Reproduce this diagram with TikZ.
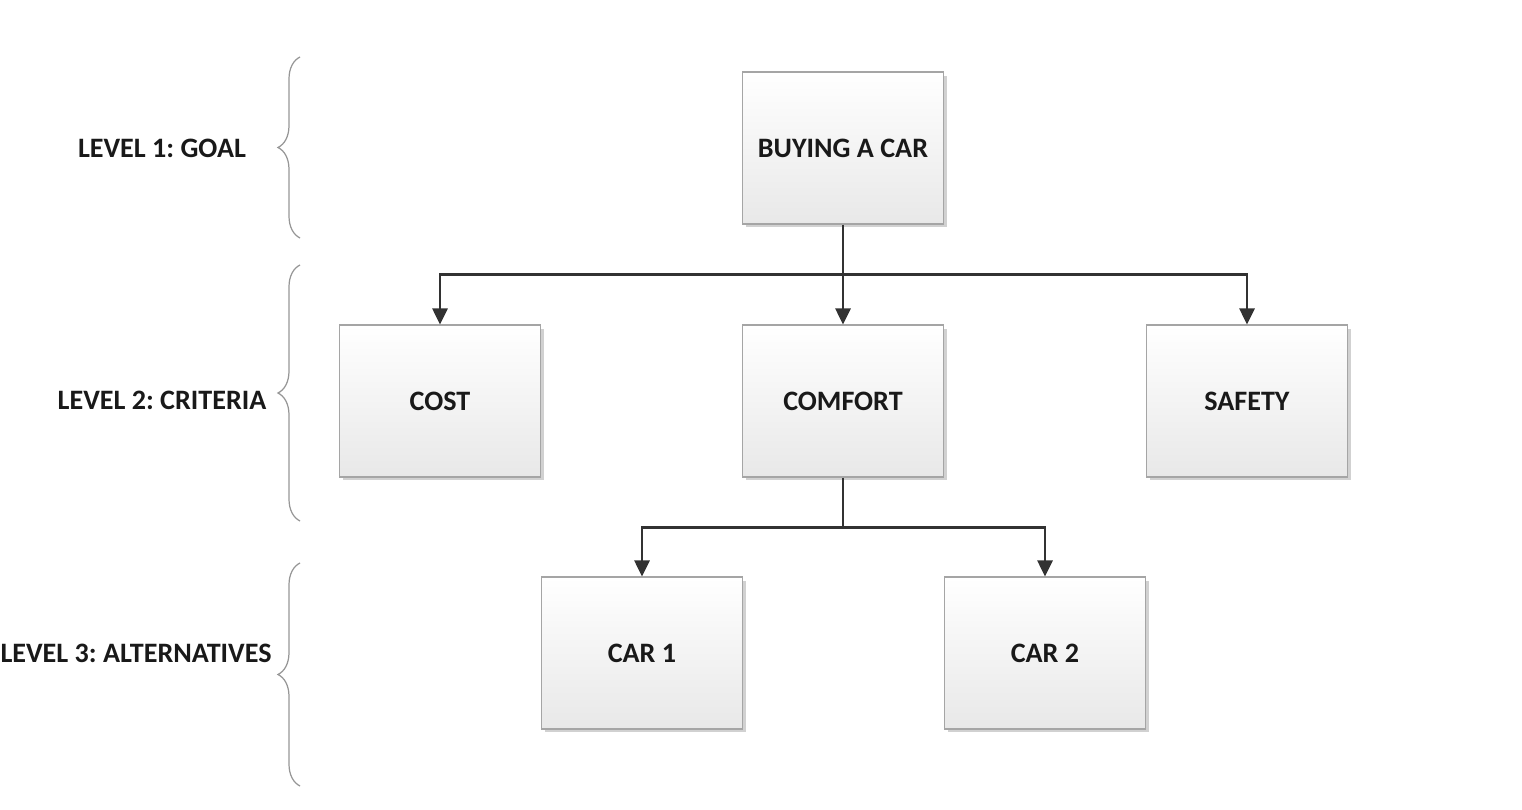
\documentclass[tikz,border=0pt]{standalone}
\usepackage{fontspec}
\setmainfont{Carlito}
\frenchspacing
\usetikzlibrary{arrows.meta,positioning,shadows,decorations.pathreplacing}
\definecolor{boxedge}{RGB}{165,165,165}
\definecolor{linkcolor}{RGB}{50,50,50}
\definecolor{bracecolor}{RGB}{150,150,150}
\definecolor{textcolor}{RGB}{25,25,25}

\tikzset{
  hbox/.style={draw=boxedge, line width=0.6pt, top color=white, bottom color=black!9,
    minimum width=4.02cm, minimum height=3.04cm, inner sep=0pt,
    text=textcolor, font=\fontsize{16}{19}\selectfont\bfseries,
    drop shadow={shadow xshift=0.07cm, shadow yshift=-0.07cm, opacity=0.3, fill=black!60}},
  levellabel/.style={text=textcolor, font=\fontsize{16}{19}\selectfont\bfseries, inner sep=0pt},
  levelbrace/.style={draw=bracecolor, line width=0.7pt,
    decorate, decoration={brace, amplitude=0.44cm}},
  link/.style={draw=linkcolor, line width=1.5pt},
  linkarrow/.style={link, -{Triangle[length=0.32cm, width=0.3cm]}}
}

\begin{document}
\begin{tikzpicture}[x=0.02cm, y=-0.02cm]
\useasboundingbox (0,0) rectangle (1522,810);

% ================= HIERARCHY BOXES =================
\node[hbox] (goal)    at (843,148) {BUYING A CAR};
\node[hbox] (cost)    at (440,401) {COST};
\node[hbox] (comfort) at (843,401) {COMFORT};
\node[hbox] (safety)  at (1247,401) {SAFETY};
\node[hbox] (car1)    at (642,653) {CAR 1};
\node[hbox] (car2)    at (1045,653) {CAR 2};

% goal -> criteria
\path (goal.south) ++(0,50) coordinate (split1);
\draw[link] (goal.south) -- (split1);
\draw[linkarrow] (split1) -| (cost.north);
\draw[linkarrow] (split1) -- (comfort.north);
\draw[linkarrow] (split1) -| (safety.north);

% comfort -> alternatives
\path (comfort.south) ++(0,50) coordinate (split2);
\draw[link] (comfort.south) -- (split2);
\draw[linkarrow] (split2) -| (car1.north);
\draw[linkarrow] (split2) -| (car2.north);

% ================= LEFT: LEVELS =================
\node[levellabel] (lvl1) at (162,148) {LEVEL 1: GOAL};
\node[levellabel] (lvl2) at (162,400) {LEVEL 2: CRITERIA};
\node[levellabel] (lvl3) at (136,653) {LEVEL 3: ALTERNATIVES};

\draw[levelbrace] (300,238) -- (300,57);
\draw[levelbrace] (300,521) -- (300,265);
\draw[levelbrace] (300,786) -- (300,563);

\end{tikzpicture}
\end{document}
